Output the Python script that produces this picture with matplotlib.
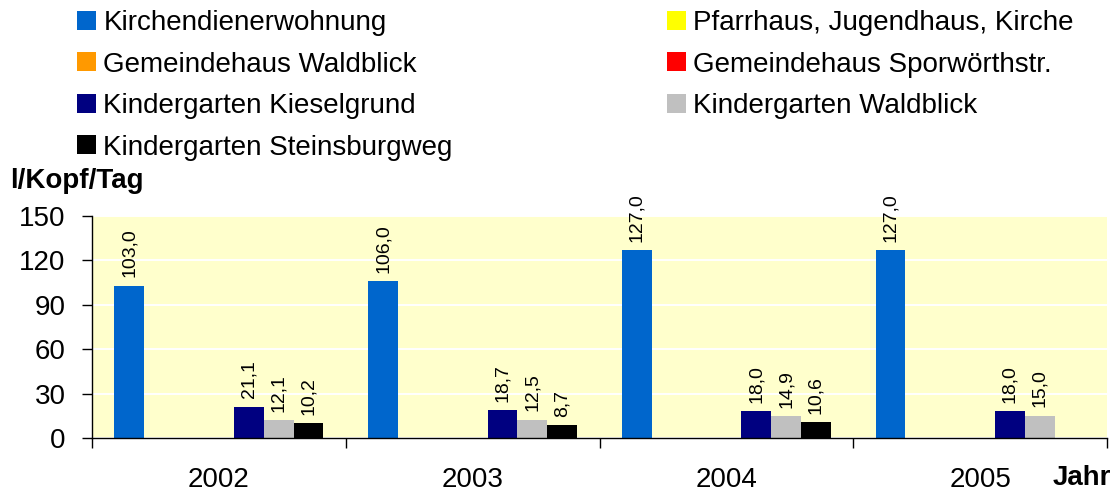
import matplotlib.pyplot as plt
import numpy as np
from matplotlib.ticker import FixedLocator, NullFormatter

plt.rcParams['font.family'] = ['Liberation Sans', 'DejaVu Sans']

years = ['2002', '2003', '2004', '2005']
series_names = [
    'Kirchendienerwohnung',
    'Pfarrhaus, Jugendhaus, Kirche',
    'Gemeindehaus Waldblick',
    'Gemeindehaus Sporwörthstr.',
    'Kindergarten Kieselgrund',
    'Kindergarten Waldblick',
    'Kindergarten Steinsburgweg',
]
nan = np.nan
kirchendiener = [103.0, 106.0, 127.0, 127.0]
pfarrhaus = [nan, nan, nan, nan]
gh_waldblick = [nan, nan, nan, nan]
gh_sporwoerth = [nan, nan, nan, nan]
kg_kieselgrund = [21.1, 18.7, 18.0, 18.0]
kg_waldblick = [12.1, 12.5, 14.9, 15.0]
kg_steinsburg = [10.2, 8.7, 10.6, nan]
colors = ['#0066CC', '#FFFF00', '#FF9900', '#FF0000', '#000080', '#C0C0C0', '#000000']

all_series = [kirchendiener, pfarrhaus, gh_waldblick, gh_sporwoerth,
              kg_kieselgrund, kg_waldblick, kg_steinsburg]

W, H = 1119, 492
fig = plt.figure(figsize=(W / 100, H / 100), dpi=100)
ax = fig.add_axes([92 / W, (H - 438) / H, (1107 - 92) / W, (438 - 216) / H])
ax.set_facecolor('#FFFFCC')

n = len(all_series)
bw = 1 / (n + 1.5)
x = np.arange(len(years))
handles = []
for k, (vals, c) in enumerate(zip(all_series, colors)):
    vals = np.array(vals, dtype=float)
    bars = ax.bar(x + (k - (n - 1) / 2) * bw, vals, width=bw, color=c,
                  label=series_names[k], zorder=2)
    labels = ['' if np.isnan(v) else f'{v:.1f}'.replace('.', ',') for v in vals]
    ax.bar_label(bars, labels=labels, rotation=90, padding=6, fontsize=14)
    handles.append(bars)

ax.set_xlim(-0.5, len(years) - 0.5)
ax.set_ylim(0, 150)
ax.set_yticks([0, 30, 60, 90, 120, 150])
ax.yaxis.grid(True, color='white', linewidth=1.4, zorder=1)
ax.set_axisbelow(True)
ax.tick_params(axis='y', labelsize=20, length=7, width=1, pad=12)

ax.xaxis.set_major_locator(FixedLocator(np.arange(len(years) + 1) - 0.5))
ax.xaxis.set_major_formatter(NullFormatter())
ax.set_xticks(x, minor=True)
ax.set_xticklabels(years, minor=True)
ax.tick_params(axis='x', which='major', length=7, width=1)
ax.tick_params(axis='x', which='minor', length=0, labelsize=20, pad=21)

for s in ['top', 'right']:
    ax.spines[s].set_visible(False)
for s in ['left', 'bottom']:
    ax.spines[s].set_linewidth(1)

leg_kw = dict(frameon=False, fontsize=20, handlelength=0.68, handleheight=0.68,
              handletextpad=0.27, labelspacing=0.56, borderpad=0, borderaxespad=0)
fig.legend([handles[i] for i in [0, 2, 4, 6]], [series_names[i] for i in [0, 2, 4, 6]],
           loc='upper left', bbox_to_anchor=(77 / W, 1 - 10 / H), **leg_kw)
fig.legend([handles[i] for i in [1, 3, 5]], [series_names[i] for i in [1, 3, 5]],
           loc='upper left', bbox_to_anchor=(667 / W, 1 - 10 / H), **leg_kw)

fig.text(10 / W, 1 - 181 / H, 'l/Kopf/Tag', fontsize=20, fontweight='bold', va='center')
fig.text(1053 / W, 1 / H, 'Jahr', fontsize=20, fontweight='bold', va='bottom')

fig.savefig('out.png', dpi=100)
